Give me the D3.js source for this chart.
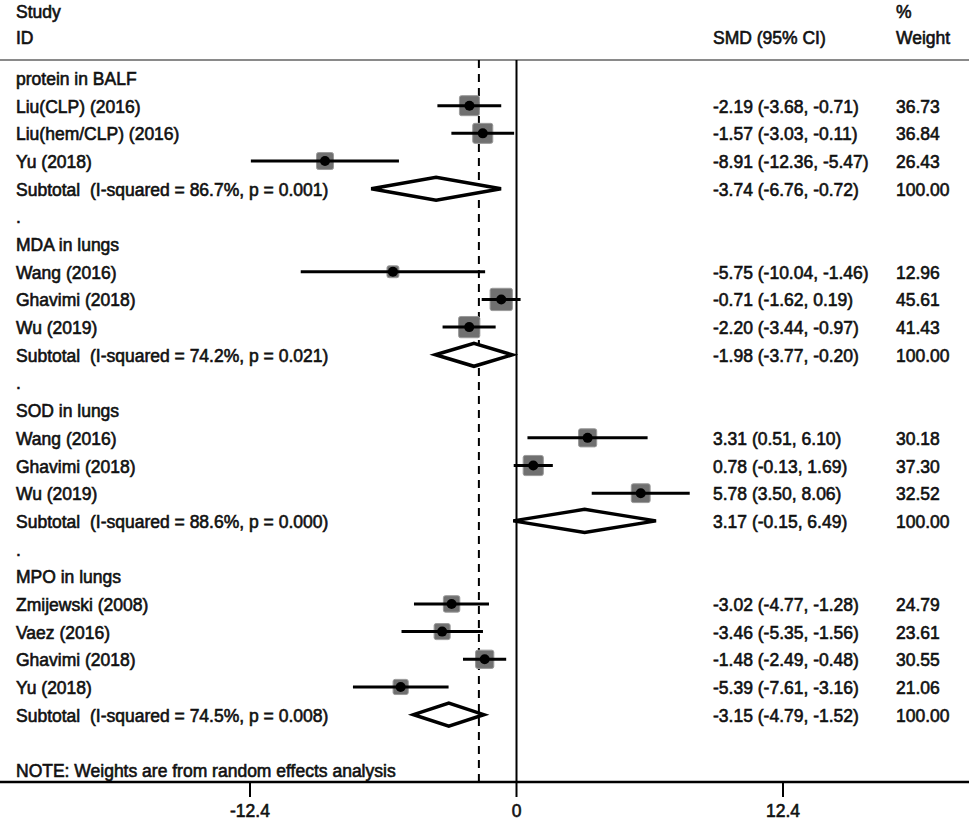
<!DOCTYPE html>
<html>
<head>
<meta charset="utf-8">
<script src="https://cdn.jsdelivr.net/npm/d3@7"></script>
<style>
  body { margin: 0; background: #fff; }
  text { font-family: "Liberation Sans", Arial, sans-serif; font-size: 17.5px; fill: #111; stroke: #111; stroke-width: 0.6px; white-space: pre; }
</style>
</head>
<body>
<div id="chart"></div>
<script>
// subgroups
var groupNames = ["protein in BALF", "MDA in lungs", "SOD in lungs", "MPO in lungs"];

// individual studies
var studyLabels = ["Liu(CLP) (2016)", "Liu(hem/CLP) (2016)", "Yu (2018)",
                   "Wang (2016)", "Ghavimi (2018)", "Wu (2019)",
                   "Wang (2016)", "Ghavimi (2018)", "Wu (2019)",
                   "Zmijewski (2008)", "Vaez (2016)", "Ghavimi (2018)", "Yu (2018)"];
var studyGroup  = [0, 0, 0, 1, 1, 1, 2, 2, 2, 3, 3, 3, 3];
var studySmd    = [-2.19, -1.57, -8.91, -5.75, -0.71, -2.20, 3.31, 0.78, 5.78, -3.02, -3.46, -1.48, -5.39];
var studyLo     = [-3.68, -3.03, -12.36, -10.04, -1.62, -3.44, 0.51, -0.13, 3.50, -4.77, -5.35, -2.49, -7.61];
var studyHi     = [-0.71, -0.11, -5.47, -1.46, 0.19, -0.97, 6.10, 1.69, 8.06, -1.28, -1.56, -0.48, -3.16];
var studyWeight = [36.73, 36.84, 26.43, 12.96, 45.61, 41.43, 30.18, 37.30, 32.52, 24.79, 23.61, 30.55, 21.06];

// subtotals
var subSmd = [-3.74, -1.98, 3.17, -3.15];
var subLo  = [-6.76, -3.77, -0.15, -4.79];
var subHi  = [-0.72, -0.20, 6.49, -1.52];
var subI2  = ["86.7", "74.2", "88.6", "74.5"];
var subP   = ["0.001", "0.021", "0.000", "0.008"];

// overall effect (dashed line) and axis ticks
var overallSmd = -1.75;
var tickValues = [-12.4, 0, 12.4];

var width = 969,
    height = 822;

var svg = d3.select("#chart").append("svg")
    .attr("width", width)
    .attr("height", height);

var x = d3.scaleLinear().domain([-12.4, 12.4]).range([250, 783]);

var rowStep = 27.68,
    rowTop = 78;
function rowY(i) { return rowTop + i * rowStep; }

var fmt = function(v) { return d3.format(".2f")(v).replace("\u2212", "-"); };

// build row list
var rows = [];
var r = 0;
groupNames.forEach(function(g, gi) {
    if (gi > 0) { rows.push({type: "dot", row: r}); r++; }
    rows.push({type: "head", row: r, label: g}); r++;
    studyLabels.forEach(function(s, si) {
        if (studyGroup[si] != gi) return;
        rows.push({type: "study", row: r, label: s, est: studySmd[si], lo: studyLo[si], hi: studyHi[si], w: studyWeight[si]});
        r++;
    });
    rows.push({type: "sub", row: r, label: "Subtotal  (I-squared = " + subI2[gi] + "%, p = " + subP[gi] + ")",
               est: subSmd[gi], lo: subLo[gi], hi: subHi[gi], w: 100});
    r++;
});
var noteRow = r + 1;

var axisY = 782,
    topY = 60,
    colCI = 713,
    colW = 896;

// header
svg.append("text").attr("x", 16).attr("y", 18).text("Study");
svg.append("text").attr("x", 16).attr("y", 44).text("ID");
svg.append("text").attr("x", colCI).attr("y", 44).text("SMD (95% CI)");
svg.append("text").attr("x", colW).attr("y", 18).text("%");
svg.append("text").attr("x", colW).attr("y", 44).text("Weight");

svg.append("line")
    .attr("x1", 0).attr("x2", width)
    .attr("y1", topY).attr("y2", topY)
    .attr("stroke", "#8a8a8a").attr("stroke-width", 2);

// reference lines
svg.append("line")
    .attr("x1", x(0)).attr("x2", x(0))
    .attr("y1", topY).attr("y2", axisY)
    .attr("stroke", "#000").attr("stroke-width", 2);

svg.append("line")
    .attr("x1", x(overallSmd)).attr("x2", x(overallSmd))
    .attr("y1", topY).attr("y2", axisY)
    .attr("stroke", "#000").attr("stroke-width", 2)
    .attr("stroke-dasharray", "8,6");

// labels
svg.selectAll(".lbl")
    .data(rows)
    .enter().append("text")
    .attr("class", "lbl")
    .attr("x", 16)
    .attr("y", function(d) { return rowY(d.row) + 7; })
    .text(function(d) { return d.type == "dot" ? "." : d.label; });

var est = rows.filter(function(d) { return d.type == "study" || d.type == "sub"; });

svg.selectAll(".ci")
    .data(est)
    .enter().append("text")
    .attr("x", colCI)
    .attr("y", function(d) { return rowY(d.row) + 7; })
    .text(function(d) { return fmt(d.est) + " (" + fmt(d.lo) + ", " + fmt(d.hi) + ")"; });

svg.selectAll(".wt")
    .data(est)
    .enter().append("text")
    .attr("x", colW)
    .attr("y", function(d) { return rowY(d.row) + 7; })
    .text(function(d) { return fmt(d.w); });

// studies: weight box, CI line, point
var studies = rows.filter(function(d) { return d.type == "study"; });

svg.selectAll(".box")
    .data(studies)
    .enter().append("rect")
    .attr("x", function(d) { return x(d.est) - 1.65 * Math.sqrt(d.w); })
    .attr("y", function(d) { return rowY(d.row) - 1.65 * Math.sqrt(d.w); })
    .attr("width", function(d) { return 3.3 * Math.sqrt(d.w); })
    .attr("height", function(d) { return 3.3 * Math.sqrt(d.w); })
    .attr("rx", 2)
    .attr("fill", "#707070")
    .attr("stroke", "#9a9a9a")
    .attr("stroke-width", 1);

svg.selectAll(".ciline")
    .data(studies)
    .enter().append("line")
    .attr("x1", function(d) { return x(d.lo); })
    .attr("x2", function(d) { return x(d.hi); })
    .attr("y1", function(d) { return rowY(d.row); })
    .attr("y2", function(d) { return rowY(d.row); })
    .attr("stroke", "#000").attr("stroke-width", 3);

svg.selectAll(".pt")
    .data(studies)
    .enter().append("circle")
    .attr("cx", function(d) { return x(d.est); })
    .attr("cy", function(d) { return rowY(d.row); })
    .attr("r", 5)
    .attr("fill", "#000");

// subtotal diamonds
var subs = rows.filter(function(d) { return d.type == "sub"; });
svg.selectAll(".diamond")
    .data(subs)
    .enter().append("path")
    .attr("d", function(d) {
        var y = rowY(d.row), h = 11.5;
        return "M" + x(d.lo) + "," + y + "L" + x(d.est) + "," + (y - h) +
               "L" + x(d.hi) + "," + y + "L" + x(d.est) + "," + (y + h) + "Z";
    })
    .attr("fill", "#fff")
    .attr("stroke", "#000")
    .attr("stroke-width", 3.5);

// note
svg.append("text").attr("x", 16).attr("y", rowY(noteRow) + 7)
    .text("NOTE: Weights are from random effects analysis");

// x axis
svg.append("line")
    .attr("x1", 0).attr("x2", width)
    .attr("y1", axisY).attr("y2", axisY)
    .attr("stroke", "#000").attr("stroke-width", 2.5);

svg.selectAll(".tick")
    .data(tickValues)
    .enter().append("line")
    .attr("x1", function(d) { return x(d); })
    .attr("x2", function(d) { return x(d); })
    .attr("y1", axisY).attr("y2", axisY + 15)
    .attr("stroke", "#000").attr("stroke-width", 2);

svg.selectAll(".ticklbl")
    .data(tickValues)
    .enter().append("text")
    .attr("x", function(d) { return x(d); })
    .attr("y", 817)
    .attr("text-anchor", "middle")
    .text(function(d) { return d == 0 ? "0" : String(d); });
</script>
</body>
</html>
